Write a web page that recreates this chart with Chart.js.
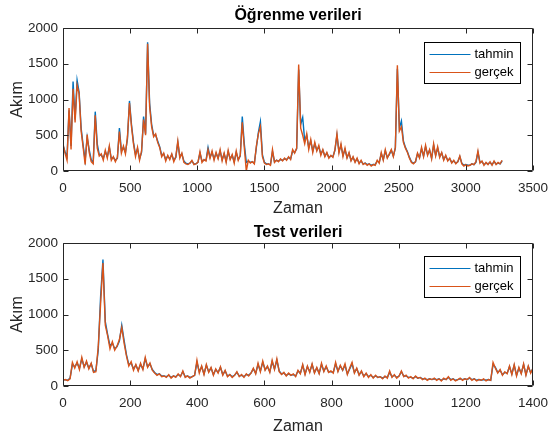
<!DOCTYPE html>
<html>
<head>
<meta charset="utf-8">
<script src="https://cdn.jsdelivr.net/npm/chart.js@4.4.1/dist/chart.umd.min.js"></script>
<style>
  html, body { margin: 0; padding: 0; background: #fff; }
  canvas { display: block; }
</style>
</head>
<body>
<canvas id="ogrenmeChart" width="552" height="218"></canvas>
<canvas id="testChart" width="552" height="218"></canvas>
<script>
// Öğrenme verileri: one sample every 15 time steps
const OGRENME_ADIM = 15;
const ogrenmeGercek = [
  380, 250, 150, 880, 300, 1150, 680, 1200, 1080, 560, 330, 90, 510, 260, 130,
  100, 780, 320, 210, 240, 150, 290, 180, 350, 150, 200, 130, 190, 550, 250,
  350, 240, 480, 950, 620, 380, 200, 330, 150, 280, 720, 500, 1780, 900, 620,
  480, 520, 400, 330, 200, 250, 140, 220, 160, 240, 130, 200, 420, 180, 250,
  120, 100, 90, 110, 150, 90, 100, 120, 270, 120, 160, 140, 300, 180, 280,
  150, 260, 170, 300, 140, 250, 120, 290, 160, 230, 110, 280, 150, 220, 680,
  330, 0, 150, 110, 130, 100, 350, 520, 620, 200, 110, 90, 100, 80, 300,
  120, 150, 130, 170, 140, 180, 150, 200, 160, 300, 250, 320, 1490, 600, 500,
  380, 520, 300, 440, 260, 400, 280, 360, 220, 300, 200, 260, 180, 220, 190,
  300, 520, 250, 380, 200, 320, 180, 260, 140, 200, 120, 180, 100, 150, 90,
  110, 80, 100, 70, 90, 80, 150, 110, 260, 150, 300, 180, 240, 300, 200,
  330, 1480, 560, 620, 400, 320, 260, 180, 120, 100, 130, 250, 180, 330, 200,
  360, 220, 300, 170, 380, 210, 340, 190, 260, 150, 220, 140, 180, 110, 150,
  100, 130, 210, 100, 70, 90, 70, 80, 100, 90, 130, 280, 110, 140, 80,
  120, 90, 130, 80, 140, 90, 120, 100, 150
];
const ogrenmeTahmin = [
  360, 270, 200, 850, 350, 1250, 720, 1270, 1100, 600, 360, 150, 470, 300, 160,
  120, 830, 380, 230, 220, 180, 270, 200, 330, 170, 190, 150, 180, 600, 280,
  330, 260, 450, 980, 650, 400, 230, 310, 170, 260, 760, 520, 1800, 950, 650,
  500, 500, 420, 340, 220, 240, 160, 210, 170, 230, 150, 190, 400, 200, 240,
  140, 110, 100, 110, 140, 100, 100, 120, 250, 140, 150, 150, 330, 190, 260,
  170, 250, 180, 280, 160, 240, 140, 270, 170, 220, 130, 260, 160, 210, 760,
  380, 120, 140, 120, 130, 110, 330, 540, 690, 230, 120, 100, 100, 90, 270,
  130, 150, 140, 160, 150, 170, 160, 190, 170, 280, 260, 310, 1420, 650, 750,
  420, 500, 330, 420, 280, 380, 290, 340, 240, 290, 210, 250, 190, 210, 200,
  290, 500, 270, 360, 220, 300, 190, 250, 150, 190, 130, 170, 110, 140, 100,
  110, 90, 100, 80, 90, 90, 140, 120, 240, 160, 280, 190, 230, 290, 210,
  320, 1430, 600, 700, 420, 330, 270, 190, 130, 110, 130, 240, 190, 310, 210,
  340, 230, 290, 180, 360, 220, 320, 200, 250, 160, 210, 150, 170, 120, 140,
  110, 130, 200, 110, 80, 90, 80, 80, 100, 90, 120, 260, 120, 130, 90,
  110, 100, 120, 90, 130, 100, 110, 100, 140
];

// Test verileri: one sample every 7 time steps
const TEST_ADIM = 7;
const testGercek = [
  80, 90, 75, 100, 330, 250, 340, 230, 400, 260, 350, 240, 320, 190, 200, 550, 1150, 1720, 850, 700,
  520, 620, 500, 560, 650, 820, 600, 420, 280, 340, 220, 300, 210, 320, 230, 400, 260, 320, 220, 180,
  150, 170, 130, 140, 120, 160, 110, 140, 120, 170, 130, 210, 120, 140, 110, 130, 150, 360, 180, 280,
  160, 300, 190, 260, 150, 240, 180, 270, 150, 220, 130, 160, 120, 150, 200, 130, 160, 120, 170, 140,
  180, 250, 170, 320, 200, 350, 220, 280, 190, 360, 230, 380, 200, 160, 190, 140, 180, 150, 170, 130,
  220, 170, 300, 160, 280, 190, 310, 180, 260, 170, 320, 200, 280, 190, 210, 180, 330, 200, 290, 220,
  310, 160, 250, 330, 180, 250, 150, 210, 130, 180, 120, 160, 110, 150, 120, 130, 100, 140, 110, 210,
  120, 160, 110, 140, 210, 130, 150, 110, 130, 100, 140, 110, 120, 90, 110, 80, 100, 90, 110, 80,
  100, 70, 110, 90, 130, 80, 100, 70, 90, 110, 80, 100, 90, 120, 80, 100, 70, 90, 80, 100,
  70, 90, 80, 330, 250, 180, 230, 150, 200, 170, 280, 160, 300, 140, 260, 170, 310, 150, 280, 180, 250
];
const testTahmin = [
  90, 85, 80, 110, 300, 270, 320, 250, 380, 270, 330, 250, 310, 200, 220, 500, 1250, 1770, 900, 720,
  560, 600, 520, 550, 630, 850, 640, 440, 300, 320, 240, 290, 220, 300, 240, 380, 270, 310, 230, 190,
  160, 170, 140, 140, 130, 150, 120, 140, 130, 160, 140, 200, 130, 140, 120, 130, 150, 330, 200, 270,
  170, 290, 200, 250, 160, 230, 190, 260, 160, 210, 140, 160, 130, 150, 190, 140, 150, 130, 160, 150,
  180, 240, 180, 300, 210, 330, 230, 270, 200, 340, 240, 360, 210, 170, 180, 150, 170, 150, 160, 140,
  210, 180, 290, 170, 270, 200, 300, 190, 250, 180, 300, 210, 270, 200, 200, 190, 310, 210, 280, 220,
  290, 170, 240, 310, 190, 240, 160, 200, 140, 170, 130, 150, 120, 140, 120, 130, 110, 130, 120, 190,
  130, 150, 120, 140, 200, 140, 140, 120, 120, 110, 130, 110, 120, 100, 100, 90, 100, 90, 100, 90,
  100, 80, 100, 90, 120, 90, 100, 80, 90, 100, 90, 100, 90, 110, 90, 100, 80, 90, 80, 90,
  80, 90, 80, 300, 260, 190, 220, 160, 190, 180, 270, 170, 290, 150, 250, 180, 300, 160, 270, 190, 240
];

const ogrenmeXTicks = [0, 500, 1000, 1500, 2000, 2500, 3000, 3500];
const testXTicks = [0, 200, 400, 600, 800, 1000, 1200, 1400];
const akimTicks = [0, 500, 1000, 1500, 2000];
const seriesLabels = ['tahmin', 'gerçek'];

const MAVI = '#0072BD';
const TURUNCU = '#D95319';
const EKSEN = '#262626';
const FONT = '"Liberation Sans", Arial, Helvetica, sans-serif';

// box, inward ticks, title and legend drawn the way MATLAB axes look
const matlabAxes = {
  id: 'matlabAxes',
  afterDraw(chart, args, opts) {
    const { ctx, chartArea: a, scales: { x, y } } = chart;
    const L = Math.round(a.left) + 0.5, R = Math.round(a.right) - 0.5;
    const T = Math.round(a.top) + 0.5, B = Math.round(a.bottom) - 0.5;
    const tick = 5;
    ctx.save();
    ctx.strokeStyle = EKSEN;
    ctx.lineWidth = 1;
    ctx.beginPath();
    ctx.rect(L, T, R - L, B - T);
    x.ticks.forEach(t => {
      const px = Math.round(x.getPixelForValue(t.value)) + 0.5;
      ctx.moveTo(px, B); ctx.lineTo(px, B - tick);
      ctx.moveTo(px, T); ctx.lineTo(px, T + tick);
    });
    y.ticks.forEach(t => {
      const py = Math.round(y.getPixelForValue(t.value)) + 0.5;
      ctx.moveTo(L, py); ctx.lineTo(L + tick, py);
      ctx.moveTo(R, py); ctx.lineTo(R - tick, py);
    });
    ctx.stroke();

    // title centred over the axes
    ctx.fillStyle = '#000';
    ctx.font = 'bold 16px ' + FONT;
    ctx.textAlign = 'center';
    ctx.textBaseline = 'middle';
    ctx.fillText(opts.title, (a.left + a.right) / 2, opts.titleY);

    // legend box in the upper right corner
    const bx = Math.round(a.right) - 109 + 0.5;
    const by = Math.round(a.top) + opts.legendTop + 0.5;
    const bw = 96, bh = 41;
    ctx.fillStyle = '#fff';
    ctx.fillRect(bx, by, bw, bh);
    ctx.strokeStyle = '#000';
    ctx.strokeRect(bx, by, bw, bh);
    const renkler = [MAVI, TURUNCU];
    ctx.font = '13px ' + FONT;
    ctx.textAlign = 'left';
    seriesLabels.forEach((lbl, i) => {
      const ly = Math.round(by + 11 + i * 18) + 0.5;
      ctx.strokeStyle = renkler[i];
      ctx.beginPath();
      ctx.moveTo(bx + 5, ly);
      ctx.lineTo(bx + 46, ly);
      ctx.stroke();
      ctx.fillStyle = '#000';
      ctx.fillText(lbl, bx + 50, ly);
    });
    ctx.restore();
  }
};

// plain integers on the ticks, no thousands separator
const sayi = v => String(v);

function ciz(id, adim, gercek, tahmin, xMax, xTicks, baslik, ayar) {
  const noktalar = arr => arr.map((v, i) => ({ x: i * adim, y: v }));
  return new Chart(document.getElementById(id), {
    type: 'line',
    data: {
      datasets: [
        { label: seriesLabels[0], data: noktalar(tahmin), borderColor: MAVI, borderWidth: 1.4, pointRadius: 0, order: 1 },
        { label: seriesLabels[1], data: noktalar(gercek), borderColor: TURUNCU, borderWidth: 1.4, pointRadius: 0, order: 0 }
      ]
    },
    options: {
      responsive: false,
      animation: false,
      devicePixelRatio: 1,
      layout: { padding: { left: 0, right: 19, top: ayar.ust, bottom: 0 } },
      plugins: {
        legend: { display: false },
        tooltip: { enabled: false },
        matlabAxes: { title: baslik, titleY: ayar.baslikY, legendTop: ayar.legendTop }
      },
      scales: {
        x: {
          type: 'linear', min: 0, max: xMax,
          grid: { display: false, drawTicks: false },
          border: { display: false },
          afterBuildTicks: s => { s.ticks = xTicks.map(v => ({ value: v })); },
          ticks: { color: EKSEN, font: { family: FONT, size: 13.5 }, padding: 9, maxRotation: 0, callback: sayi },
          title: { display: true, text: 'Zaman', color: EKSEN, font: { family: FONT, size: 16 }, padding: { top: 0, bottom: 0 } },
          // the last label may hang into the right margin
          afterFit: s => { s.height = ayar.alt; s.paddingRight = 0; s.paddingLeft = 0; }
        },
        y: {
          min: 0, max: 2000,
          grid: { display: false, drawTicks: false },
          border: { display: false },
          afterBuildTicks: s => { s.ticks = akimTicks.map(v => ({ value: v })); },
          ticks: { color: EKSEN, font: { family: FONT, size: 13.5 }, padding: 5, callback: sayi },
          title: { display: true, text: 'Akım', color: EKSEN, font: { family: FONT, size: 16 }, padding: { top: 8, bottom: 0 } },
          afterFit: s => { s.width = 63; }
        }
      }
    },
    plugins: [matlabAxes]
  });
}

ciz('ogrenmeChart', OGRENME_ADIM, ogrenmeGercek, ogrenmeTahmin, 3500, ogrenmeXTicks,
    'Öğrenme verileri', { ust: 28, alt: 47, baslikY: 16, legendTop: 14 });
ciz('testChart', TEST_ADIM, testGercek, testTahmin, 1400, testXTicks,
    'Test verileri', { ust: 25, alt: 50, baslikY: 15, legendTop: 13 });
</script>
</body>
</html>
